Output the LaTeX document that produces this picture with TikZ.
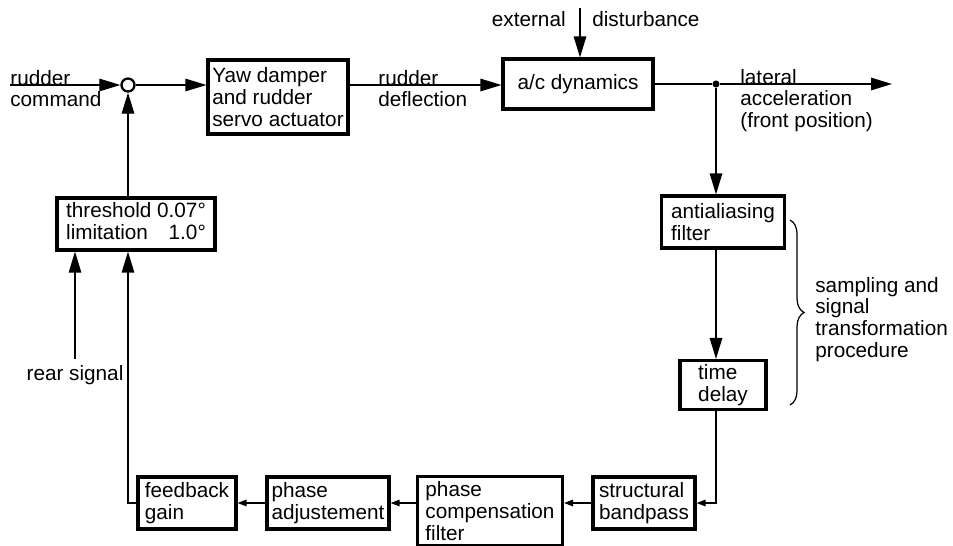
\documentclass[tikz,border=0pt]{standalone}
\usepackage{fontspec}
\setmainfont{Liberation Sans}
\usetikzlibrary{arrows.meta, decorations.pathreplacing}

\begin{document}
\begin{tikzpicture}[
		x=0.02cm, y=-0.02cm,
		font=\fontsize{11.8}{12.3}\selectfont,
		myblock/.style={
			draw,
			line width=1.8pt,
			align=left,
			inner sep=2pt,
		},
		myedge/.style={
			line width=0.7pt,
			-{Triangle[length=4.2mm, width=2.5mm]},
		},
		mysmall/.style={
			line width=0.7pt,
			-{Triangle[length=1.8mm, width=1.3mm]},
		},
		mytext/.style={
			align=left,
			inner sep=0pt,
		}
	]

		\useasboundingbox (0,0) rectangle (953,545);

		% Blocs
		\node[myblock, minimum width=2.8cm, minimum height=1.48cm] (yaw) at (278,97) {Yaw damper\\and rudder\\servo actuator};
		\node[myblock, minimum width=3.0cm, minimum height=1.0cm] (ac) at (578,84) {a/c dynamics};
		\node[myblock, minimum width=2.46cm, minimum height=1.04cm] (aa) at (723,222) {antialiasing\\filter};
		\node[myblock, minimum width=1.72cm, minimum height=0.98cm] (td) at (723,385) {time\\delay};
		\node[myblock, minimum width=2.04cm, minimum height=1.04cm] (sb) at (644,503) {structural\\bandpass};
		\node[myblock, minimum width=2.9cm, minimum height=1.38cm] (pc) at (490,511) {phase\\compensation\\filter};
		\node[myblock, minimum width=2.44cm, minimum height=1.04cm] (pa) at (328,503) {phase\\adjustement};
		\node[myblock, minimum width=1.96cm, minimum height=1.04cm] (fb) at (187,503) {feedback\\gain};
		\node[myblock, minimum width=3.16cm, minimum height=1.04cm] (thr) at (136,224) {\begin{tabular}{@{}l@{\ }r@{}}threshold & 0.07°\\limitation & 1.0°\end{tabular}};

		% Point de somme et jonction
		\node[draw, circle, line width=1.3pt, minimum size=0.26cm, inner sep=0pt] (sum) at (128,85) {};
		\node[circle, fill, minimum size=4pt, inner sep=0pt] (junc) at (716,84) {};
		\coordinate (cmd) at (10,85);
		\coordinate (out) at (892,84);
		\coordinate (dist) at (580,8);

		% Textes
		\node[mytext, anchor=west] (cmdlbl) at (10,88.5) {rudder\\command};
		\node[mytext, anchor=west] (deflbl) at (378,88.5) {rudder\\deflection};
		\node[mytext, anchor=base east] (extlbl) at (566,26) {external};
		\node[mytext, anchor=base west] (distlbl) at (592,26) {disturbance};
		\node[mytext, anchor=north west] (latlbl) at (740,69) {lateral\\acceleration\\(front\ position)};
		\node[mytext, anchor=north west] (samplbl) at (815,277) {sampling and\\signal\\transformation\\procedure};
		\node (rear) at (75,375) {rear signal};

		% Accolade
		\draw[decorate, decoration={brace, amplitude=8pt}, line width=0.7pt] (790,220) -- (790,405);

		% Connexions
		\draw[myedge] (cmd) -- (sum);
		\draw[myedge] (sum) -- (sum -| yaw.west);
		\draw[myedge] (yaw.east |- sum) -- (sum -| ac.west);
		\draw[myedge] (dist) -- (dist |- ac.north);
		\draw[line width=0.7pt] (ac.east) -- (junc);
		\draw[myedge] (junc) -- (out);
		\draw[myedge] (junc) -- (junc |- aa.north);
		\draw[myedge] (junc |- aa.south) -- (junc |- td.north);
		\draw[mysmall] (junc |- td.south) |- (sb.east);
		\draw[mysmall] (sb.west) -- (sb.west -| pc.east);
		\draw[mysmall] (pc.west |- pa.east) -- (pa.east);
		\draw[mysmall] (pa.west) -- (fb.east);
		\draw[myedge] (fb.west) -| (thr.south -| sum);
		\draw[myedge] (rear) -- (rear |- thr.south);
		\draw[myedge] (thr.north -| sum) -- (sum);

	\end{tikzpicture}
\end{document}
